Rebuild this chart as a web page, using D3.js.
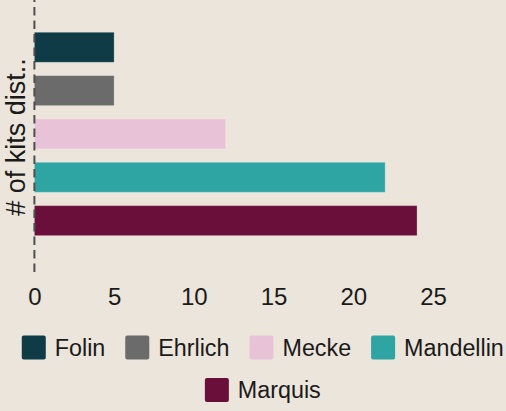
<!DOCTYPE html>
<html>
<head>
<meta charset="utf-8">
<script src="https://cdn.jsdelivr.net/npm/d3@7"></script>
<style>
  html, body { margin: 0; padding: 0; background: #ebe5db; }
  svg { display: block; font-family: "Liberation Sans", Arial, sans-serif; }
</style>
</head>
<body>
<svg id="chart" width="506" height="411"></svg>
<script>
// Test kits distributed, by reagent
const categories = ["Folin", "Ehrlich", "Mecke", "Mandellin", "Marquis"];
const kitCounts = [5, 5, 12, 22, 24];
const colors = ["#0e3b45", "#6b6b6b", "#e8c3d7", "#2ea5a3", "#6a0f3a"];
const tickValues = [0, 5, 10, 15, 20, 25];
const axisTitle = "# of kits dist..";

const W = 506, H = 411;
const svg = d3.select("#chart");
svg.append("rect").attr("width", W).attr("height", H).attr("fill", "#ebe5db");

const x = d3.scaleLinear().domain([0, 25]).range([34.4, 433]);
const y = d3.scaleBand().domain(categories).range([10.6, 257.3])
  .paddingInner(0.3077).paddingOuter(0.5);
const color = d3.scaleOrdinal().domain(categories).range(colors);

// bars
svg.append("g").selectAll("rect")
  .data(categories.map((c, i) => ({ c, v: kitCounts[i] })))
  .join("rect")
  .attr("x", x(0))
  .attr("y", d => y(d.c))
  .attr("width", d => x(d.v) - x(0))
  .attr("height", y.bandwidth())
  .attr("fill", d => color(d.c))
  .attr("stroke", "#ffffff")
  .attr("stroke-opacity", 0.25)
  .attr("stroke-width", 1);

// dashed baseline at zero
svg.append("path")
  .attr("d", `M${x(0)},272V0`)
  .attr("stroke", "#4f4f4f")
  .attr("stroke-width", 2)
  .attr("stroke-dasharray", "8.5,5")
  .attr("fill", "none");

// x axis labels
const xAxis = d3.axisBottom(x).tickValues(tickValues).tickSize(0).tickPadding(0);
const gx = svg.append("g").attr("transform", "translate(0,288)").call(xAxis);
gx.select(".domain").remove();
gx.selectAll("text")
  .attr("dy", null)
  .attr("y", 17)
  .attr("font-size", 24)
  .attr("font-family", "Liberation Sans, Arial, sans-serif")
  .attr("fill", "#1a1a1a");

// y axis title
svg.append("text")
  .attr("transform", "translate(25,137) rotate(-90)")
  .attr("text-anchor", "middle")
  .attr("font-size", 27)
  .attr("fill", "#1a1a1a")
  .text(axisTitle);

// legend, flowed into centred rows
const legendFont = 23.3, sw = 24, swGap = 9, itemGap = 20, maxRowW = 490, cx = 262.8;
const rowsTop = [335.5, 378], baseOff = 20;
const items = categories.map(c => {
  const t = svg.append("text").attr("font-size", legendFont).text(c);
  const w = t.node().getComputedTextLength();
  t.remove();
  return { c, w: sw + swGap + w };
});
const rows = [[]];
let cur = 0;
items.forEach(it => {
  const add = (rows[rows.length - 1].length ? itemGap : 0) + it.w;
  if (cur + add > maxRowW && rows[rows.length - 1].length) {
    rows.push([it]); cur = it.w;
  } else {
    rows[rows.length - 1].push(it); cur += add;
  }
});
const legend = svg.append("g");
rows.forEach((row, ri) => {
  const total = d3.sum(row, d => d.w) + itemGap * (row.length - 1);
  let xp = cx - total / 2;
  const top = rowsTop[ri];
  row.forEach(it => {
    legend.append("rect")
      .attr("x", xp).attr("y", top)
      .attr("width", sw).attr("height", sw)
      .attr("rx", 2)
      .attr("fill", color(it.c));
    legend.append("text")
      .attr("x", xp + sw + swGap)
      .attr("y", top + baseOff)
      .attr("font-size", legendFont)
      .attr("fill", "#1a1a1a")
      .text(it.c);
    xp += it.w + itemGap;
  });
});
</script>
</body>
</html>
